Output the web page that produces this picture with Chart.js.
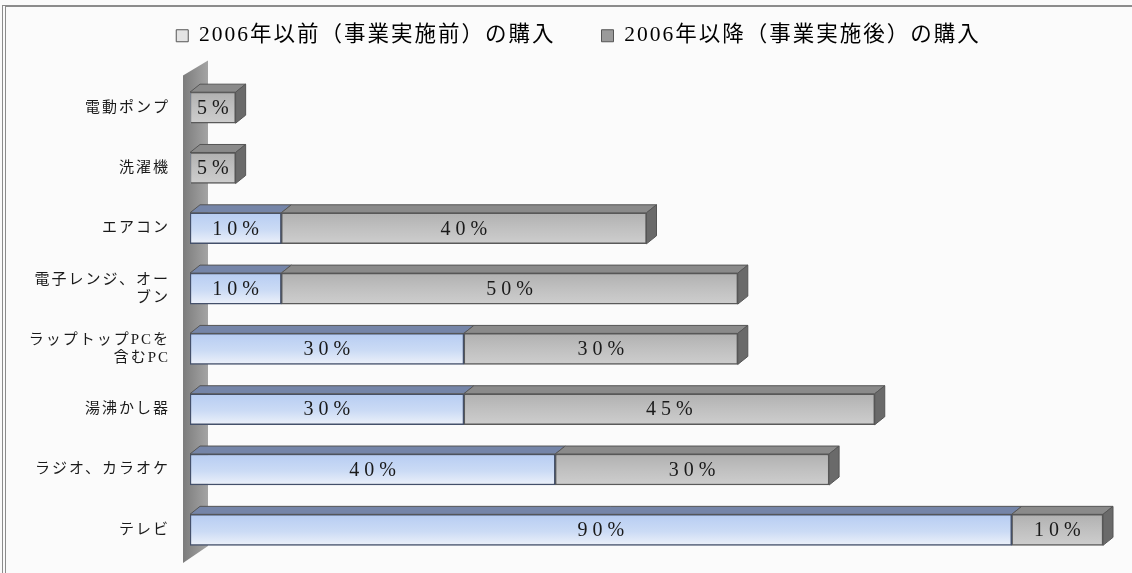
<!DOCTYPE html>
<html>
<head>
<meta charset="utf-8">
<script src="https://cdn.jsdelivr.net/npm/chart.js@4"></script>
<style>
  body { margin: 0; background: #fbfbfb; overflow: hidden; }
  .wrap { position: relative; width: 1132px; height: 573px; overflow: hidden; }
  .frame { position: absolute; left: 2px; top: 5px; width: 1140px; height: 600px;
           border-top: 2px solid #8c8c8c; border-left: 4px double #8c8c8c; pointer-events: none; }
</style>
</head>
<body>
<div class="wrap">
  <canvas id="chart" width="1132" height="573"></canvas>
  <div class="frame"></div>
</div>
<script>
const categories = ['電動ポンプ', '洗濯機', 'エアコン', ['電子レンジ、オー', 'ブン'], ['ラップトップPCを', '含むPC'], '湯沸かし器', 'ラジオ、カラオケ', 'テレビ'];
const seriesNames = ['2006年以前（事業実施前）の購入', '2006年以降（事業実施後）の購入'];
const before2006 = [0, 0, 10, 10, 30, 30, 40, 90];
const after2006 = [5, 5, 40, 50, 30, 45, 30, 10];

const fontFamily = "'Liberation Serif', 'Times New Roman', 'DejaVu Serif', 'Noto Sans CJK JP', serif";
const flatColors = ['#cbdaf3', '#bdbdbd'];
const topColors = ['#7585a8', '#8a8a8a'];
const borderColors = ['#44506a', '#5a5a5a'];
const legendFill = ['#e4e4e4', '#9a9a9a'];

function barFill(i) {
  return function (c) {
    const chart = c.chart;
    if (c.dataIndex === undefined || !chart.scales.y) return flatColors[i];
    const yc = chart.scales.y.getPixelForValue(c.dataIndex);
    const g = chart.ctx.createLinearGradient(0, yc - 16, 0, yc + 16);
    if (i === 0) {
      g.addColorStop(0, '#b6ccf2');
      g.addColorStop(0.55, '#cbdbf5');
      g.addColorStop(1, '#eef2fa');
    } else {
      g.addColorStop(0, '#b0b0b0');
      g.addColorStop(0.5, '#c0c0c0');
      g.addColorStop(1, '#cecece');
    }
    return g;
  };
}

// letter spacing for the Mincho-like look, legend nudged right like the original
const spacing = {
  id: 'spacing',
  beforeLayout(chart) { chart.ctx.letterSpacing = '2px'; },
  afterLayout(chart) {
    if (chart.legend) {
      chart.legend.left += 22;
      chart.legend.right += 22;
    }
  },
  beforeDraw(chart) { chart.ctx.letterSpacing = '2px'; }
};

// left wall of the 3d floor
const wall = {
  id: 'wall',
  beforeDatasetsDraw(chart) {
    const a = chart.chartArea;
    const ctx = chart.ctx;
    const L = a.left;
    ctx.save();
    const g = ctx.createLinearGradient(L - 7, 0, L + 18, 0);
    g.addColorStop(0, '#7c7c7c');
    g.addColorStop(1, '#a4a4a4');
    ctx.fillStyle = g;
    ctx.beginPath();
    ctx.moveTo(L - 7, a.top - 2);
    ctx.lineTo(L + 18, a.top - 17);
    ctx.lineTo(L + 18, a.bottom - 14);
    ctx.lineTo(L - 7, a.bottom + 3);
    ctx.closePath();
    ctx.fill();
    ctx.restore();
  }
};

// 3d top and side faces, then the value labels
const bars3d = {
  id: 'bars3d',
  afterDatasetsDraw(chart) {
    const ctx = chart.ctx;
    const dx = 10, dy = -8;
    ctx.save();
    ctx.letterSpacing = '0px';
    const last = chart.data.datasets.length - 1;
    chart.data.datasets.forEach((ds, i) => {
      const meta = chart.getDatasetMeta(i);
      meta.data.forEach((bar, j) => {
        if (!ds.data[j]) return;
        const p = bar.getProps(['x', 'y', 'base', 'height'], true);
        const t = p.y - p.height / 2;
        const b = p.y + p.height / 2;
        ctx.fillStyle = topColors[i];
        ctx.strokeStyle = '#555';
        ctx.lineWidth = 1;
        ctx.beginPath();
        ctx.moveTo(p.base, t);
        ctx.lineTo(p.base + dx, t + dy);
        ctx.lineTo(p.x + dx, t + dy);
        ctx.lineTo(p.x, t);
        ctx.closePath();
        ctx.fill();
        ctx.stroke();
        let isEnd = true;
        for (let k = i + 1; k <= last; k++) if (chart.data.datasets[k].data[j]) isEnd = false;
        if (isEnd) {
          ctx.fillStyle = '#6a6a6a';
          ctx.beginPath();
          ctx.moveTo(p.x, t);
          ctx.lineTo(p.x + dx, t + dy);
          ctx.lineTo(p.x + dx, b + dy);
          ctx.lineTo(p.x, b);
          ctx.closePath();
          ctx.fill();
          ctx.stroke();
        }
      });
    });
    ctx.font = '20px ' + fontFamily;
    ctx.letterSpacing = '5px';
    ctx.fillStyle = '#1a1a1a';
    ctx.textAlign = 'center';
    ctx.textBaseline = 'middle';
    chart.data.datasets.forEach((ds, i) => {
      const meta = chart.getDatasetMeta(i);
      meta.data.forEach((bar, j) => {
        if (!ds.data[j]) return;
        const p = bar.getProps(['x', 'y', 'base'], true);
        ctx.fillText(ds.data[j] + '%', (p.x + p.base) / 2 + 2.5, p.y + 1);
      });
    });
    ctx.restore();
  }
};

new Chart(document.getElementById('chart'), {
  type: 'bar',
  data: {
    labels: categories,
    datasets: [
      {
        label: seriesNames[0],
        data: before2006,
        backgroundColor: barFill(0),
        borderColor: borderColors[0],
        borderWidth: c => (c.raw ? 1.5 : 0),
        borderSkipped: false,
        barThickness: 31
      },
      {
        label: seriesNames[1],
        data: after2006,
        backgroundColor: barFill(1),
        borderColor: borderColors[1],
        borderWidth: c => (c.raw ? 1.5 : 0),
        borderSkipped: false,
        barThickness: 31
      }
    ]
  },
  options: {
    indexAxis: 'y',
    responsive: false,
    animation: false,
    layout: { padding: { left: 10, right: 29, top: -21, bottom: 13 } },
    plugins: {
      legend: {
        position: 'top',
        labels: {
          color: '#1a1a1a',
          font: { family: fontFamily, size: 21.5 },
          boxWidth: 12,
          boxHeight: 12,
          padding: 46,
          generateLabels(chart) {
            return chart.data.datasets.map((ds, i) => ({
              text: ds.label,
              fillStyle: legendFill[i],
              strokeStyle: '#555',
              lineWidth: 1,
              datasetIndex: i
            }));
          }
        }
      },
      tooltip: { enabled: false }
    },
    scales: {
      x: {
        stacked: true,
        min: 0,
        max: 100,
        position: 'top',
        ticks: { display: false },
        grid: { display: false },
        border: { display: false },
        afterFit(s) { s.height = 21; }
      },
      y: {
        stacked: true,
        grid: { display: false },
        border: { display: false },
        ticks: {
          color: '#1a1a1a',
          padding: 12,
          font: { family: fontFamily, size: 15, lineHeight: 1.2 }
        },
        afterFit(s) {
          s.width = 180;
          s.paddingTop = 0;
          s.paddingBottom = 0;
        }
      }
    }
  },
  plugins: [spacing, wall, bars3d]
});
</script>
</body>
</html>
